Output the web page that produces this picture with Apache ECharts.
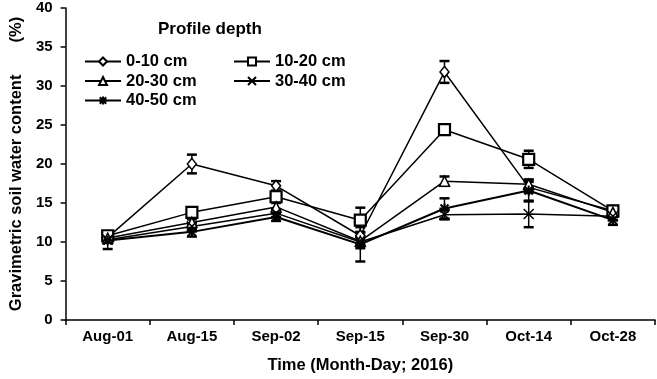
<!DOCTYPE html>
<html>
<head>
<meta charset="utf-8">
<script src="https://cdn.jsdelivr.net/npm/echarts@6/dist/echarts.min.js"></script>
<style>html,body{margin:0;padding:0;background:#fff}#c{width:657px;height:379px}</style>
</head>
<body>
<div id="c"></div>
<script>
var categories = ['Aug-01', 'Aug-15', 'Sep-02', 'Sep-15', 'Sep-30', 'Oct-14', 'Oct-28'];
var seriesNames = ['0-10 cm', '10-20 cm', '20-30 cm', '30-40 cm', '40-50 cm'];
var d0_10  = [10.6, 20.0, 17.2, 10.8, 31.8, 17.0, 14.0];
var d10_20 = [10.8, 13.8, 15.8, 12.8, 24.4, 20.6, 14.0];
var d20_30 = [10.5, 12.5, 14.5, 10.1, 17.8, 17.4, 13.8];
var d30_40 = [10.3, 12.0, 13.7, 10.0, 13.5, 13.6, 13.3];
var d40_50 = [10.2, 11.3, 13.2, 9.7, 14.3, 16.6, 12.8];
var e0_10  = [0.5, 1.2, 0.6, 0.5, 1.4, 0.7, 0.5];
var e10_20 = [0.4, 0.4, 0.5, 1.6, 0.5, 1.1, 0.6];
var e20_30 = [0.4, 0.4, 0.5, 0.6, 0.6, 0.6, 0.6];
var e30_40 = [0.4, 0.4, 0.5, 0.8, 0.6, 1.7, 0.5];
var e40_50 = [1.1, 0.6, 0.5, 2.2, 1.3, 1.4, 0.6];

var values = [d0_10, d10_20, d20_30, d30_40, d40_50];
var errors = [e0_10, e10_20, e20_30, e30_40, e40_50];
var FONT = '"Liberation Sans", Arial, sans-serif';

var symbols = [
  {symbol: 'diamond', size: [9, 11], fill: '#fff', bw: 1.5},
  {symbol: 'rect', size: 11, fill: '#fff', bw: 2.2},
  {symbol: 'triangle', size: 10, fill: '#fff', bw: 1.5},
  {symbol: 'path://M0,0L10,10M10,0L0,10', size: 10, fill: 'none', bw: 1.5},
  {symbol: 'path://M0,5L10,5M1,1L9,9M9,1L1,9M5,0L5,10', size: 10, fill: 'none', bw: 2}
];

var series = [];
values.forEach(function (vals, s) {
  var data = vals.map(function (v, i) { return [i, v - errors[s][i], v + errors[s][i]]; });
  series.push({
    type: 'custom',
    name: 'err' + s,
    z: 1,
    silent: true,
    encode: {x: 0, y: [1, 2]},
    data: data,
    renderItem: function (params, api) {
      var lo = api.coord([api.value(0), api.value(1)]);
      var hi = api.coord([api.value(0), api.value(2)]);
      var hw = 5;
      var st = {stroke: '#000', lineWidth: 1.5};
      var cap = {stroke: '#000', lineWidth: 2.5};
      return {
        type: 'group',
        children: [
          {type: 'line', shape: {x1: lo[0], y1: lo[1], x2: hi[0], y2: hi[1]}, style: st},
          {type: 'line', shape: {x1: lo[0] - hw, y1: lo[1], x2: lo[0] + hw, y2: lo[1]}, style: cap},
          {type: 'line', shape: {x1: hi[0] - hw, y1: hi[1], x2: hi[0] + hw, y2: hi[1]}, style: cap}
        ]
      };
    }
  });
});
values.forEach(function (vals, s) {
  var sy = symbols[s];
  series.push({
    type: 'line',
    name: seriesNames[s],
    data: vals,
    z: 3,
    symbol: sy.symbol,
    symbolSize: sy.size,
    showAllSymbol: true,
    lineStyle: {color: '#000', width: s === 4 ? 2 : 1.5},
    itemStyle: {color: sy.fill, borderColor: '#000', borderWidth: sy.bw},
    emphasis: {disabled: true}
  });
});

var legendText = {fontFamily: FONT, fontWeight: 'bold', fontSize: 16.5, color: '#000'};
var chart = echarts.init(document.getElementById('c'), null, {renderer: 'canvas'});
chart.setOption({
  animation: false,
  backgroundColor: '#fff',
  title: {
    text: 'Profile depth', left: 158, top: 21, padding: 0,
    textStyle: {fontFamily: FONT, fontWeight: 'bold', fontSize: 17, color: '#000'}
  },
  legend: [
    {data: ['0-10 cm', '20-30 cm', '40-50 cm'], orient: 'vertical', left: 84, top: 53,
     itemWidth: 36, itemHeight: 10, itemGap: 2.5, textStyle: legendText, padding: 0},
    {data: ['10-20 cm', '30-40 cm'], orient: 'vertical', left: 233, top: 53,
     itemWidth: 36, itemHeight: 10, itemGap: 2.5, textStyle: legendText, padding: 0}
  ],
  grid: {left: 63, right: 2, top: 8, bottom: 53, containLabel: false},
  xAxis: {
    type: 'category',
    data: categories,
    boundaryGap: true,
    name: 'Time (Month-Day; 2016)',
    nameLocation: 'middle',
    nameGap: 37,
    nameTextStyle: {fontFamily: FONT, fontWeight: 'bold', fontSize: 16.5, color: '#000'},
    axisLine: {lineStyle: {color: '#000', width: 1.5}},
    axisTick: {show: true, length: 5, lineStyle: {color: '#000', width: 1.5}},
    axisLabel: {fontFamily: FONT, fontWeight: 'bold', fontSize: 15, color: '#000', margin: 9},
    splitLine: {show: false}
  },
  yAxis: {
    type: 'value',
    min: 0, max: 40, interval: 5,
    name: 'Gravimetric soil water content       (%)',
    nameLocation: 'middle',
    nameRotate: 90,
    nameGap: 40,
    nameTextStyle: {fontFamily: FONT, fontWeight: 'bold', fontSize: 16.5, color: '#000'},
    axisLine: {show: true, lineStyle: {color: '#000', width: 1.5}},
    axisTick: {show: true, length: 5, lineStyle: {color: '#000', width: 1.5}},
    axisLabel: {fontFamily: FONT, fontWeight: 'bold', fontSize: 15, color: '#000', margin: 13},
    splitLine: {show: false}
  },
  series: series
});
</script>
</body>
</html>
